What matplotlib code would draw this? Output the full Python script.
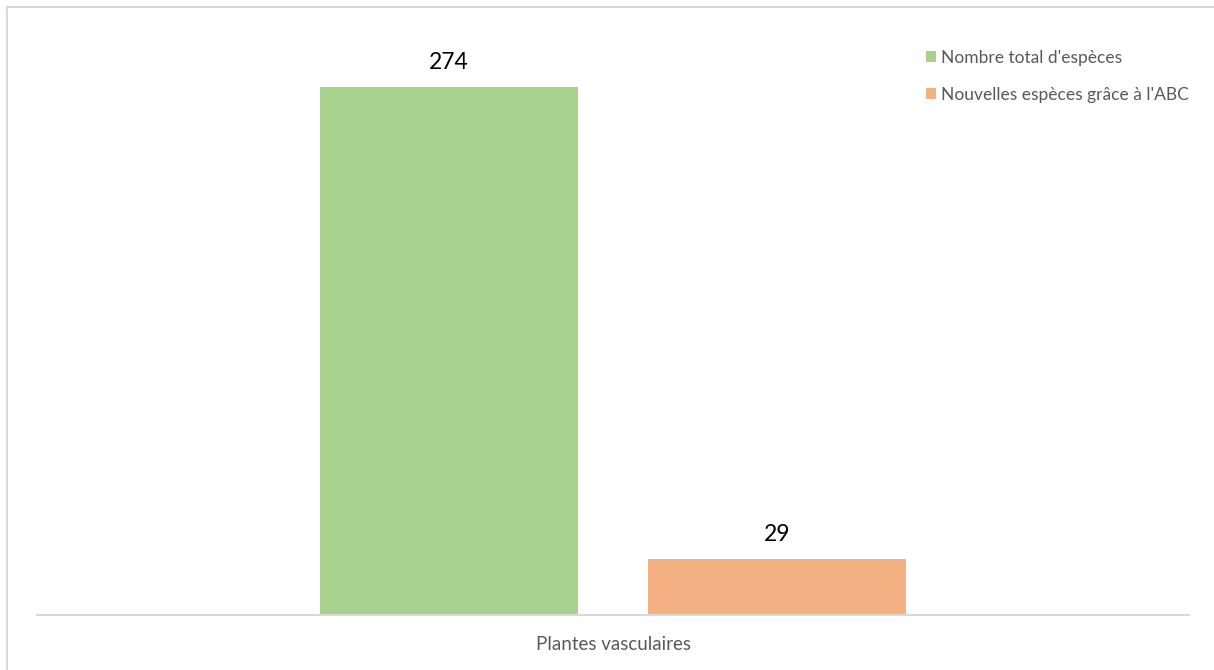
import matplotlib
matplotlib.use("Agg")
import matplotlib.pyplot as plt
from matplotlib.lines import Line2D
from matplotlib.patches import Patch

plt.rcParams['font.family'] = ['Lato', 'DejaVu Sans']

categories = ["Plantes vasculaires"]
series_names = ["Nombre total d'espèces", "Nouvelles espèces grâce à l'ABC"]
series_values = [[274], [29]]
series_colors = ["#a9d18e", "#f4b183"]

W, H = 1214, 670
fig = plt.figure(figsize=(W / 100, H / 100), dpi=100)
fig.patch.set_facecolor("white")

# plot area in pixel coordinates
left, right, bottom, top = 37, 1189, 615, 37
ax = fig.add_axes([left / W, 1 - bottom / H, (right - left) / W, (bottom - top) / H])

bar_w = 0.224
offsets = [-0.1424, 0.1424]
for name, vals, col, off in zip(series_names, series_values, series_colors, offsets):
    for i, v in enumerate(vals):
        ax.bar(i + off, v, width=bar_w, color=col, label=name, zorder=2)
        ax.annotate(str(v), (i + off, v), xytext=(0, 10.5), textcoords="offset points",
                    ha="center", va="bottom", fontsize=16.5, color="#000000")

ax.set_xlim(-0.5, len(categories) - 0.5)
ax.set_ylim(0, 300)
ax.set_xticks(range(len(categories)))
ax.set_xticklabels(categories, fontsize=13.5, color="#595959")
ax.tick_params(axis="x", length=0, pad=15)
ax.set_yticks([])
for s in ["left", "right", "top"]:
    ax.spines[s].set_visible(False)
ax.spines["bottom"].set_color("#d9d9d9")
ax.spines["bottom"].set_linewidth(1.5)
ax.set_facecolor("none")

handles = [Patch(facecolor=c, edgecolor="none") for c in series_colors]
fig.legend(handles, series_names, loc="upper left",
           bbox_to_anchor=(926 / W, 1 - 50 / H), frameon=False,
           fontsize=12.5, labelcolor="#595959", handlelength=0.58, handleheight=0.58,
           handletextpad=0.3, labelspacing=1.2, borderaxespad=0, borderpad=0)

# outer chart border (top and left edges)
fig.add_artist(Line2D([7 / W, 1], [1 - 7 / H, 1 - 7 / H], color="#d9d9d9", lw=1.5,
                      transform=fig.transFigure))
fig.add_artist(Line2D([7 / W, 7 / W], [0, 1 - 7 / H], color="#d9d9d9", lw=1.5,
                      transform=fig.transFigure))

fig.savefig("out.png", dpi=100, facecolor="white")
